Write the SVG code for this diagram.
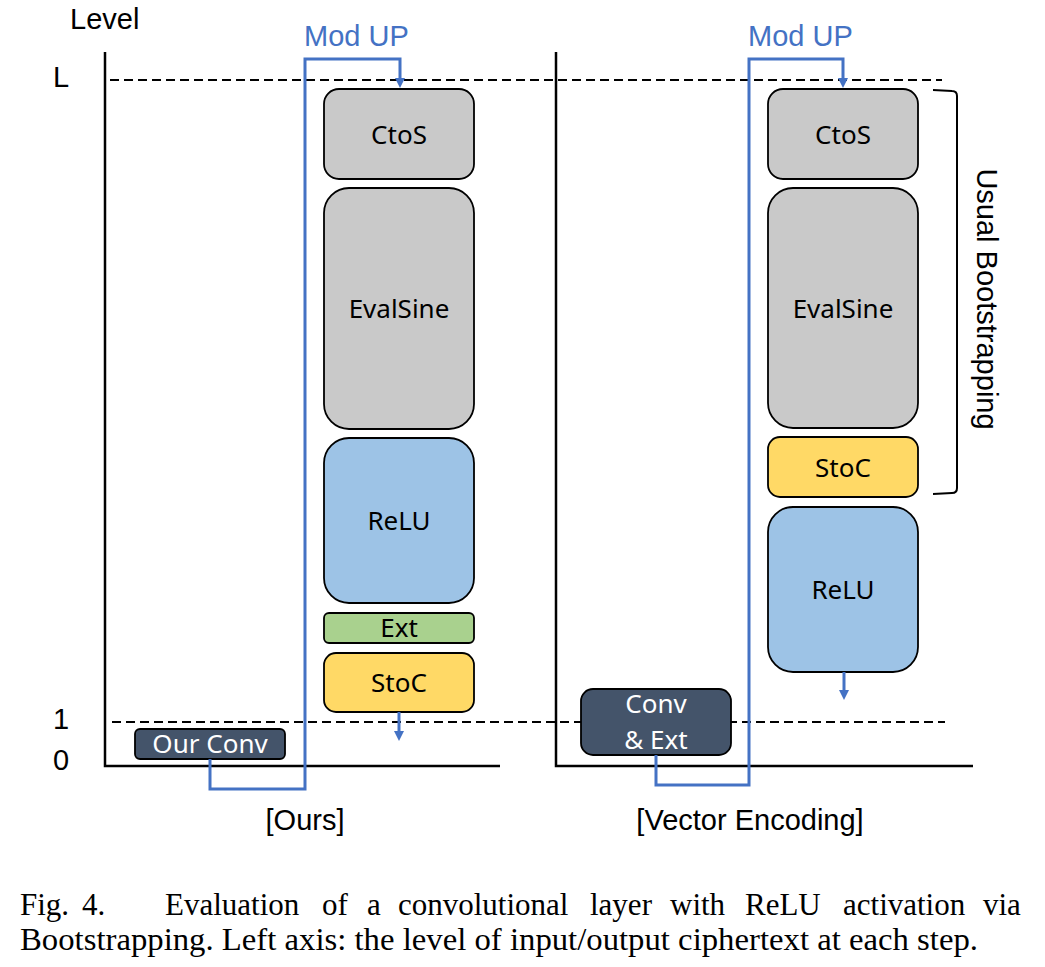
<svg xmlns="http://www.w3.org/2000/svg" width="1045" height="967" viewBox="0 0 1045 967">
<style>
.sans{font-family:"Liberation Sans",Arial,sans-serif;font-size:29px;fill:#000}
.blue{fill:#4472c4}
.lbl{font-family:"Noto Sans","Open Sans",sans-serif;font-size:26px;fill:#000;text-anchor:middle}
.wl{fill:#fff}
.box{stroke:#000;stroke-width:1.8}
.gray{fill:#c9c9c9}
.relu{fill:#9dc3e6}
.ext{fill:#a9d18e}
.stoc{fill:#ffd966}
.dark{fill:#44546a}
.axis{stroke:#000;stroke-width:2.5;fill:none}
.dash{stroke:#000;stroke-width:2;stroke-dasharray:9 5;fill:none}
.conn{stroke:#4472c4;stroke-width:3;fill:none}
.cap{font-family:"Liberation Serif","Times New Roman",serif;font-size:31px;fill:#000}
</style>
<defs>
<marker id="ah" viewBox="0 0 10 10" markerUnits="userSpaceOnUse" markerWidth="10" markerHeight="10" refX="6" refY="5" orient="auto">
<path d="M0,0 L10,5 L0,10 z" fill="#4472c4"/>
</marker>
</defs>
<rect width="1045" height="967" fill="#fff"/>

<g id="axes">
<text class="sans" x="70" y="29">Level</text>
<text class="sans" x="53" y="87">L</text>
<text class="sans" x="53" y="729">1</text>
<text class="sans" x="53" y="770">0</text>
<path class="axis" d="M105 52 V766 H500"/>
<path class="axis" d="M556 52 V766 H973"/>
<line class="dash" x1="110" y1="80" x2="942" y2="80"/>
<line class="dash" x1="112" y1="722" x2="945" y2="722"/>
<text class="sans" x="305" y="830" text-anchor="middle">[Ours]</text>
<text class="sans" x="750" y="830" text-anchor="middle">[Vector Encoding]</text>
</g>

<g id="left-ctos"><rect class="box gray" x="324" y="89" width="150" height="90" rx="15"/><text class="lbl" x="399" y="144">CtoS</text></g>
<g id="left-evalsine"><rect class="box gray" x="324" y="188" width="150" height="241" rx="25"/><text class="lbl" x="399" y="318">EvalSine</text></g>
<g id="left-relu"><rect class="box relu" x="324" y="438" width="150" height="165" rx="25"/><text class="lbl" x="399" y="530">ReLU</text></g>
<g id="left-ext"><rect class="box ext" x="324" y="613" width="150" height="30" rx="5"/><text class="lbl" x="399" y="637">Ext</text></g>
<g id="left-stoc"><rect class="box stoc" x="324" y="653" width="150" height="59" rx="12"/><text class="lbl" x="399" y="692">StoC</text></g>
<g id="left-conv"><rect class="box dark" x="135" y="729" width="150" height="30" rx="5"/><text class="lbl wl" x="210" y="753">Our Conv</text></g>

<g id="right-ctos"><rect class="box gray" x="768" y="89" width="150" height="90" rx="15"/><text class="lbl" x="843" y="144">CtoS</text></g>
<g id="right-evalsine"><rect class="box gray" x="768" y="188" width="150" height="240" rx="25"/><text class="lbl" x="843" y="318">EvalSine</text></g>
<g id="right-stoc"><rect class="box stoc" x="768" y="437" width="150" height="60" rx="12"/><text class="lbl" x="843" y="477">StoC</text></g>
<g id="right-relu"><rect class="box relu" x="768" y="507" width="150" height="165" rx="25"/><text class="lbl" x="843" y="599">ReLU</text></g>
<g id="right-conv"><rect class="box dark" x="581" y="689" width="150" height="66" rx="12"/><text class="lbl wl" x="656" y="713">Conv</text><text class="lbl wl" x="656" y="749">&amp; Ext</text></g>

<g id="bracket">
<path d="M933 90 L952 91 Q957 91 957 96 L957 488 Q957 493 952 493 L933 494" stroke="#000" stroke-width="2" fill="none"/>
<text class="sans" transform="translate(977,299) rotate(90)" text-anchor="middle">Usual Bootstrapping</text>
</g>

<g id="connectors">
<path class="conn" d="M210 759 V789 H305 V59 H400 V84" marker-end="url(#ah)"/>
<path class="conn" d="M656 755 V785 H749 V59 H843 V84" marker-end="url(#ah)"/>
<path class="conn" d="M399 712 V737" marker-end="url(#ah)"/>
<path class="conn" d="M844 672 V696" marker-end="url(#ah)"/>
<text class="sans blue" x="304" y="46">Mod UP</text>
<text class="sans blue" x="748" y="46">Mod UP</text>
</g>

<g id="caption">
<text class="cap" x="20" y="915">Fig.</text>
<text class="cap" x="82" y="915">4.</text>
<text class="cap" x="165" y="915">Evaluation</text>
<text class="cap" x="322" y="915">of</text>
<text class="cap" x="367" y="915">a</text>
<text class="cap" x="398" y="915">convolutional</text>
<text class="cap" x="590" y="915">layer</text>
<text class="cap" x="670" y="915">with</text>
<text class="cap" x="745" y="915">ReLU</text>
<text class="cap" x="843" y="915">activation</text>
<text class="cap" x="983" y="915">via</text>
<text class="cap" x="20" y="950" textLength="958" lengthAdjust="spacingAndGlyphs">Bootstrapping. Left axis: the level of input/output ciphertext at each step.</text>
</g>
</svg>
